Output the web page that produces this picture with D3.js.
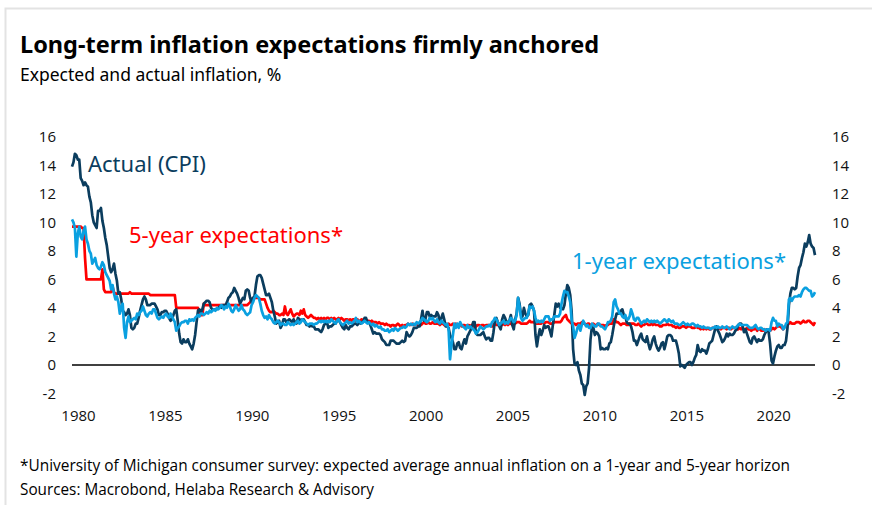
<!DOCTYPE html>
<html>
<head>
<meta charset="utf-8">
<script src="https://cdn.jsdelivr.net/npm/d3@7"></script>
<style>
  body { margin: 0; background: #fff; }
  svg { display: block; }
  .tick text { font-family: "Open Sans", "Noto Sans", sans-serif; font-size: 15px; fill: #111; }
</style>
</head>
<body>
<div id="chart"></div>
<script>
// monthly values, Jan 1980 .. Oct 2022
var cpi = [
  13.9,14.2,14.8,14.7,14.4,14.4,13.1,12.9,12.6,12.8,12.6,12.5, // 1980
  11.8,11.4,10.5,10.0,9.8,9.6,10.8,10.8,11.0,10.1,9.6,8.9,
  8.4,7.6,6.8,6.5,6.7,7.1,6.4,5.9,5.0,5.1,4.6,3.8,
  3.7,3.5,3.6,3.9,3.5,2.6,2.5,2.6,2.9,2.9,3.3,3.8,
  4.2,4.6,4.8,4.6,4.2,4.2,4.2,4.3,4.3,4.3,4.1,3.9,
  3.5,3.5,3.7,3.7,3.8,3.8,3.6,3.3,3.1,3.2,3.5,3.8, // 1985
  3.9,3.1,2.2,1.6,1.5,1.8,1.6,1.6,1.8,1.5,1.3,1.1,
  1.5,2.1,3.0,3.8,3.9,3.7,3.9,4.3,4.4,4.5,4.5,4.4,
  4.0,3.9,3.9,3.9,3.9,4.0,4.1,4.0,4.2,4.2,4.2,4.4,
  4.7,4.8,5.0,5.1,5.4,5.2,5.0,4.7,4.3,4.5,4.7,4.6,
  5.2,5.3,5.2,4.7,4.4,4.7,4.8,5.6,6.2,6.3,6.3,6.1, // 1990
  5.7,5.3,4.9,4.9,5.0,4.7,4.4,3.8,3.4,2.9,3.0,3.1,
  2.6,2.8,3.2,3.2,3.0,3.1,3.2,3.1,3.0,3.2,3.0,2.9,
  3.3,3.2,3.1,3.2,3.2,3.0,2.8,2.8,2.7,2.8,2.7,2.7,
  2.5,2.5,2.5,2.4,2.3,2.5,2.8,2.9,3.0,2.6,2.7,2.7,
  2.8,2.9,2.9,3.1,3.2,3.0,2.8,2.6,2.5,2.8,2.6,2.5, // 1995
  2.7,2.7,2.8,2.9,2.9,2.8,3.0,2.9,3.0,3.0,3.3,3.3,
  3.0,3.0,2.8,2.5,2.2,2.3,2.2,2.2,2.2,2.1,1.8,1.7,
  1.6,1.4,1.4,1.4,1.7,1.7,1.7,1.6,1.5,1.5,1.5,1.6,
  1.7,1.6,1.7,2.3,2.1,2.0,2.1,2.3,2.6,2.6,2.6,2.7,
  2.7,3.2,3.8,3.1,3.2,3.7,3.7,3.4,3.5,3.4,3.4,3.4, // 2000
  3.7,3.5,2.9,3.3,3.6,3.2,2.7,2.7,2.6,2.1,1.9,1.6,
  1.1,1.1,1.5,1.6,1.2,1.1,1.5,1.8,1.5,2.0,2.2,2.4,
  2.6,3.0,3.0,2.2,2.1,2.1,2.1,2.2,2.3,2.0,1.8,1.9,
  1.9,1.7,1.7,2.3,3.1,3.3,3.0,2.7,2.5,3.2,3.5,3.3,
  3.0,3.0,3.1,3.5,2.8,2.5,3.2,3.6,4.7,4.3,3.5,3.4, // 2005
  4.0,3.6,3.4,3.5,4.2,4.3,4.1,3.8,2.1,1.3,2.0,2.5,
  2.1,2.4,2.8,2.6,2.7,2.7,2.4,2.0,2.8,3.5,4.3,4.1,
  4.3,4.0,4.0,3.9,4.2,5.0,5.6,5.4,4.9,3.7,1.1,0.1,
  0.0,0.2,-0.4,-0.7,-1.3,-1.4,-2.1,-1.5,-1.3,-0.2,1.8,2.7,
  2.6,2.1,2.3,2.2,2.0,1.1,1.2,1.1,1.1,1.2,1.1,1.5, // 2010
  1.6,2.1,2.7,3.2,3.6,3.6,3.6,3.8,3.9,3.5,3.4,3.0,
  2.9,2.9,2.7,2.3,1.7,1.7,1.4,1.7,2.0,2.2,1.8,1.7,
  1.6,2.0,1.5,1.1,1.4,1.8,2.0,1.5,1.2,1.0,1.2,1.5,
  1.6,1.1,1.5,2.0,2.1,2.1,2.0,1.7,1.7,1.7,1.3,0.8,
  -0.1,0.0,-0.1,-0.2,0.0,0.1,0.2,0.2,0.0,0.2,0.5,0.7, // 2015
  1.4,1.0,0.9,1.1,1.0,1.0,0.8,1.1,1.5,1.6,1.7,2.1,
  2.5,2.7,2.4,2.2,1.9,1.6,1.7,1.9,2.2,2.0,2.2,2.1,
  2.1,2.2,2.4,2.5,2.8,2.9,2.9,2.7,2.3,2.5,2.2,1.9,
  1.6,1.5,1.9,2.0,1.8,1.6,1.8,1.7,1.7,1.8,2.1,2.3,
  2.5,2.3,1.5,0.3,0.1,0.6,1.0,1.3,1.4,1.2,1.2,1.4, // 2020
  1.4,1.7,2.6,4.2,5.0,5.4,5.4,5.3,5.4,6.2,6.8,7.0,
  7.5,7.9,8.5,8.3,8.6,9.1,8.5,8.3,8.2,7.7
];

var exp1y = [
  10.2,10.0,9.6,7.6,9.2,9.7,9.0,8.8,9.4,9.7,8.8,8.5, // 1980
  8.0,7.8,7.1,7.3,7.5,7.0,6.8,6.7,6.9,7.2,7.0,6.5,
  6.3,6.1,5.9,5.3,5.6,5.0,4.6,4.8,4.4,3.6,4.1,4.3,
  2.6,1.9,3.0,3.4,3.0,3.1,3.2,3.3,3.2,3.6,3.5,3.7,
  3.8,4.1,3.8,3.5,3.4,3.6,3.7,3.6,3.9,3.9,3.6,3.3,
  3.2,3.3,3.4,3.3,3.5,3.6,3.4,3.3,3.6,3.4,3.2,3.0, // 1985
  2.4,2.6,2.7,2.9,3.0,3.0,3.1,3.1,2.9,3.2,3.1,3.2,
  3.1,3.3,3.4,3.5,3.4,3.6,3.6,3.5,3.6,3.7,3.6,3.8,
  3.7,3.8,3.9,3.8,4.0,3.9,4.0,4.2,4.1,3.9,4.1,4.0,
  4.3,4.1,3.8,3.7,3.9,4.2,4.0,3.8,3.9,4.2,3.9,3.8,
  3.6,3.5,3.6,3.7,4.2,4.4,4.7,4.9,4.8,4.7,4.3,3.8, // 1990
  3.5,3.3,3.4,3.2,3.5,3.3,3.2,3.0,2.9,3.0,3.1,3.0,
  2.8,2.9,2.9,2.8,2.8,3.0,2.9,2.8,2.9,2.8,2.9,3.0,
  3.1,2.9,3.0,3.2,3.1,3.0,2.9,2.8,2.9,2.9,2.9,2.8,
  2.9,2.9,3.0,3.1,3.0,3.1,3.0,3.1,3.0,3.1,3.0,3.2,
  3.1,3.0,2.9,3.1,3.2,3.0,2.9,2.8,2.9,3.0,3.1,2.9, // 1995
  3.0,2.9,3.0,3.1,3.3,3.0,3.1,3.0,2.9,3.0,3.1,3.0,
  2.9,3.0,2.9,2.8,2.9,2.7,2.8,2.7,2.6,2.7,2.5,2.5,
  2.4,2.4,2.5,2.3,2.4,2.5,2.4,2.6,2.5,2.4,2.5,2.6,
  2.6,2.7,2.6,2.7,2.9,2.8,2.9,2.8,2.9,2.8,3.0,2.9,
  3.0,3.1,3.3,3.2,3.1,3.0,3.1,3.3,3.2,3.3,3.1,3.0, // 2000
  3.2,3.0,2.9,3.1,3.0,2.9,2.8,2.9,2.5,0.4,1.4,2.1,
  2.9,2.6,2.9,2.6,3.0,2.8,2.7,2.6,2.5,2.8,2.6,2.7,
  2.6,2.5,2.4,2.2,2.3,2.5,2.7,2.6,2.5,2.6,2.7,2.7,
  2.8,2.7,3.0,3.1,3.3,3.2,3.0,2.8,2.9,3.0,3.1,2.9,
  3.0,2.9,3.1,3.3,3.2,3.0,3.1,3.5,4.7,4.1,3.3,3.1, // 2005
  3.2,3.3,3.3,3.6,4.1,4.0,4.1,3.8,3.3,3.0,3.1,3.0,
  3.1,3.0,3.2,3.4,3.4,3.4,3.1,3.2,3.2,3.4,3.4,3.4,
  3.4,3.6,4.3,4.8,5.2,5.1,5.1,4.8,4.4,3.1,2.7,1.9,
  2.2,2.6,2.8,2.4,2.8,3.1,2.9,2.7,2.8,2.6,2.6,2.9,
  2.8,2.7,2.7,2.9,2.9,2.7,2.7,2.6,2.5,2.7,3.0,3.0, // 2010
  3.1,3.4,4.4,4.6,4.1,3.9,3.6,3.6,3.4,3.3,3.5,3.2,
  3.2,3.4,3.9,3.6,3.2,3.1,3.3,3.3,3.1,2.9,3.0,3.1,
  3.0,3.2,3.1,3.0,3.1,3.0,3.1,3.0,3.1,3.0,2.9,3.0,
  3.1,3.2,3.1,3.0,3.2,3.1,3.0,3.1,2.9,2.9,2.9,2.8,
  2.8,2.9,3.0,2.9,2.8,2.9,2.8,2.8,2.9,2.9,2.8,2.7, // 2015
  2.8,2.7,2.7,2.6,2.7,2.6,2.6,2.6,2.6,2.5,2.6,2.6,
  2.7,2.6,2.7,2.6,2.6,2.7,2.6,2.6,2.7,2.6,2.5,2.6,
  2.7,2.6,2.6,2.7,2.8,2.9,2.8,2.8,2.8,2.8,2.8,2.7,
  2.6,2.6,2.6,2.7,2.8,2.6,2.5,2.6,2.6,2.5,2.5,2.4,
  2.5,2.5,2.4,3.0,3.3,3.1,3.1,2.7,2.9,2.8,2.8,2.5, // 2020
  2.6,2.9,3.0,4.6,4.7,4.5,4.7,4.8,4.8,4.8,4.9,4.8,
  5.1,5.3,5.4,5.4,5.3,5.2,5.2,4.8,4.9,5.1
];

var exp5y = [
  9.7,9.7,9.7,9.7,9.7,9.7,9.7,9.6,9.6,7.5,6.0,6.0, // 1980
  6.0,6.0,6.0,6.0,6.0,6.0,6.0,6.0,6.0,6.7,5.3,5.1,
  5.1,5.1,5.1,5.1,5.5,5.1,5.0,5.0,5.0,5.0,5.0,5.0,
  5.0,5.0,5.0,5.0,5.1,5.0,5.0,5.0,5.0,5.0,5.0,5.0,
  5.0,5.0,5.0,5.0,5.0,5.0,4.9,4.9,4.9,4.9,4.9,4.9,
  4.9,4.9,4.9,4.9,4.9,4.9,4.9,4.9,4.9,4.9,4.9,4.9, // 1985
  4.0,4.0,4.0,4.0,4.0,4.0,4.0,4.0,4.0,4.0,4.0,4.0,
  4.0,4.0,4.0,4.0,3.5,3.5,3.5,4.3,4.2,4.2,4.2,4.2,
  4.2,4.2,4.2,4.2,4.2,4.2,4.2,4.2,4.2,4.2,4.2,4.2,
  4.2,4.2,4.2,4.2,4.2,4.2,4.2,4.2,4.2,4.2,4.2,4.2,
  4.2,4.2,4.3,4.4,4.6,4.7,4.7,4.7,4.7,4.7,4.6,4.6, // 1990
  4.6,4.6,4.3,4.0,3.8,3.7,3.7,3.8,3.7,3.6,3.6,3.5,
  3.5,3.6,3.5,4.1,3.6,3.5,3.7,3.9,3.6,3.4,3.5,3.6,
  3.6,3.5,3.8,3.6,3.9,3.5,3.4,3.3,3.4,3.5,3.4,3.3,
  3.3,3.2,3.3,3.2,3.3,3.2,3.3,3.2,3.3,3.3,3.2,3.3,
  3.2,3.3,3.2,3.2,3.3,3.2,3.3,3.2,3.1,3.2,3.2,3.1, // 1995
  3.2,3.1,3.2,3.2,3.1,3.2,3.1,3.1,3.2,3.1,3.2,3.1,
  3.1,3.1,3.0,3.1,3.0,3.0,3.0,2.9,3.0,2.9,2.9,2.9,
  2.8,2.9,2.8,2.8,2.7,2.8,2.8,2.7,2.8,2.9,2.8,2.7,
  2.8,2.7,2.8,2.8,2.9,2.8,2.8,2.9,2.8,2.8,2.9,2.8,
  2.9,2.8,2.9,3.0,2.9,2.9,3.0,2.9,2.9,3.0,2.9,2.9, // 2000
  2.9,2.9,2.8,2.9,2.9,2.8,2.9,2.8,2.9,2.8,2.8,2.9,
  2.8,2.9,2.8,2.8,2.9,2.7,2.8,2.8,2.7,2.8,2.8,2.7,
  2.8,2.7,2.8,2.7,2.8,2.8,2.7,2.8,2.8,2.7,2.8,2.8,
  2.8,2.8,2.7,2.8,2.9,2.8,2.8,2.9,2.8,2.8,2.9,2.8,
  2.9,2.8,2.9,2.9,2.8,2.9,2.9,3.0,3.0,3.0,2.9,2.9, // 2005
  2.9,2.9,2.9,3.0,3.1,3.0,3.0,3.0,2.9,2.9,2.9,2.9,
  2.9,3.0,2.9,3.0,3.0,3.0,2.9,2.9,2.9,3.0,3.0,3.0,
  3.0,3.0,3.1,3.3,3.4,3.5,3.2,3.1,3.0,2.9,2.9,2.9,
  2.8,2.9,2.9,2.9,3.0,2.9,2.9,2.8,2.9,2.9,2.8,2.8,
  2.9,2.8,2.8,2.9,2.8,2.8,2.8,2.8,2.7,2.8,2.8,2.9, // 2010
  2.9,2.9,3.2,3.1,3.0,3.0,2.9,2.8,2.9,2.9,2.9,2.8,
  2.8,2.9,2.9,2.9,2.9,2.8,2.8,2.9,2.8,2.7,2.8,2.8,
  2.9,2.9,2.8,2.8,2.9,2.8,2.9,2.8,2.8,2.8,2.7,2.7,
  2.8,2.8,2.8,2.9,2.8,2.8,2.8,2.7,2.7,2.6,2.7,2.6,
  2.6,2.7,2.7,2.7,2.6,2.7,2.7,2.7,2.6,2.6,2.6,2.7, // 2015
  2.6,2.6,2.5,2.6,2.5,2.6,2.5,2.6,2.5,2.5,2.6,2.6,
  2.6,2.6,2.5,2.6,2.5,2.6,2.6,2.6,2.5,2.6,2.6,2.5,
  2.6,2.6,2.6,2.5,2.5,2.6,2.5,2.6,2.5,2.5,2.6,2.5,
  2.5,2.4,2.5,2.5,2.6,2.4,2.5,2.5,2.4,2.4,2.5,2.4,
  2.5,2.5,2.4,2.5,2.6,2.5,2.6,2.7,2.7,2.7,2.6,2.5, // 2020
  2.7,2.7,2.8,2.9,3.0,2.9,2.9,2.9,3.0,3.0,3.0,2.9,
  3.0,3.1,3.0,3.0,3.1,3.1,3.0,2.9,2.8,3.0
];

var startYear = 1980;
var yearTicks = [1980, 1985, 1990, 1995, 2000, 2005, 2010, 2015, 2020];
var valueTicks = [-2, 0, 2, 4, 6, 8, 10, 12, 14, 16];

var colors = {cpi: "#0b3d5e", exp1y: "#0aa0e0", exp5y: "#ff0000"};

var width = 872, height = 505;

var svg = d3.select("#chart").append("svg")
    .attr("width", width)
    .attr("height", height);

// light frame around the graphic (right and bottom edges fall outside)
svg.append("rect")
    .attr("x", 5.5).attr("y", 8.5)
    .attr("width", 880).attr("height", 520)
    .attr("fill", "none")
    .attr("stroke", "#e3e3e3")
    .attr("stroke-width", 2);

svg.append("text")
    .attr("x", 20).attr("y", 53)
    .style("font-family", "'Noto Sans', sans-serif")
    .style("font-weight", "bold")
    .style("font-size", "23.5px")
    .attr("fill", "#000")
    .text("Long-term inflation expectations firmly anchored");

svg.append("text")
    .attr("x", 20).attr("y", 81)
    .style("font-family", "'Noto Sans', sans-serif")
    .style("font-size", "17.5px")
    .attr("fill", "#000")
    .text("Expected and actual inflation, %");

var x = d3.scaleLinear()
    .domain([startYear, startYear + (cpi.length - 1) / 12])
    .range([72, 815]);

var y = d3.scaleLinear()
    .domain([-2, 16])
    .range([393.5, 136.7]);

function toPoints(arr) {
  return arr.map(function(v, i) { return {t: startYear + i / 12, v: v}; });
}

// plain hyphen for negatives, as in the original
var fmt = function(d) { return String(d); };

var yLeft = svg.append("g")
    .attr("transform", "translate(60,0)")
    .call(d3.axisLeft(y).tickValues(valueTicks).tickSize(0).tickPadding(4).tickFormat(fmt));
yLeft.select(".domain").remove();

var yRight = svg.append("g")
    .attr("transform", "translate(828,0)")
    .call(d3.axisRight(y).tickValues(valueTicks).tickSize(0).tickPadding(4).tickFormat(fmt));
yRight.select(".domain").remove();

var xAxis = svg.append("g")
    .attr("transform", "translate(6,408)")
    .call(d3.axisBottom(x).tickValues(yearTicks).tickSize(0).tickPadding(2).tickFormat(fmt));
xAxis.select(".domain").remove();

// zero line
svg.append("line")
    .attr("x1", x.range()[0]).attr("x2", x.range()[1])
    .attr("y1", y(0)).attr("y2", y(0))
    .attr("stroke", "#000")
    .attr("stroke-width", 1.5);

var line = d3.line()
    .x(function(d) { return x(d.t); })
    .y(function(d) { return y(d.v); });

function drawSeries(arr, col) {
  svg.append("path")
      .datum(toPoints(arr))
      .attr("fill", "none")
      .attr("stroke", col)
      .attr("stroke-width", 2.7)
      .attr("stroke-linejoin", "round")
      .attr("d", line);
}
drawSeries(exp5y, colors.exp5y);
drawSeries(cpi, colors.cpi);
drawSeries(exp1y, colors.exp1y);

// series labels
function seriesLabel(txt, px, py, col) {
  svg.append("text")
      .attr("x", px).attr("y", py)
      .style("font-family", "'Noto Sans', sans-serif")
      .style("font-size", "22px")
      .attr("fill", col)
      .text(txt);
}
seriesLabel("Actual (CPI)", 88, 172, colors.cpi);
seriesLabel("5-year expectations*", 129, 243, colors.exp5y);
seriesLabel("1-year expectations*", 572, 269, colors.exp1y);

// footnotes, squeezed to the narrow face of the original
function footnote(txt, py, len) {
  svg.append("text")
      .attr("x", 20).attr("y", py)
      .attr("textLength", len)
      .attr("lengthAdjust", "spacingAndGlyphs")
      .style("font-family", "'Open Sans', 'Noto Sans', sans-serif")
      .style("font-size", "15.5px")
      .attr("fill", "#000")
      .text(txt);
}
footnote("*University of Michigan consumer survey: expected average annual inflation on a  1-year and 5-year horizon", 471, 770);
footnote("Sources: Macrobond, Helaba Research & Advisory", 495, 354);
</script>
</body>
</html>
